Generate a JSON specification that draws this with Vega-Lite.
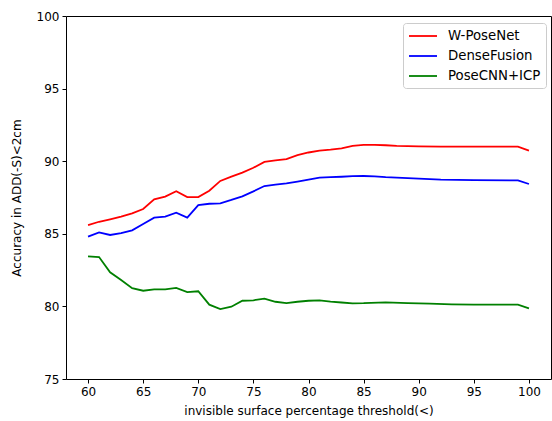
{
  "$schema": "https://vega.github.io/schema/vega-lite/v6.json",
  "width": 485,
  "height": 363,
  "autosize": {"type": "none"},
  "padding": {"left": 66, "top": 16, "right": 1, "bottom": 42},
  "background": "white",
  "config": {
    "font": "DejaVu Sans",
    "view": {"stroke": "black", "strokeWidth": 1},
    "axis": {
      "grid": false,
      "domain": false,
      "tickColor": "black",
      "tickSize": 4,
      "labelFontSize": 12,
      "labelColor": "black",
      "titleFontSize": 12,
      "titleFontWeight": "normal",
      "titleColor": "black",
      "labelPadding": 3
    }
  },
  "data": {
    "values": [
      {"method": "W-PoseNet", "t": 60, "acc": 85.6},
      {"method": "W-PoseNet", "t": 61, "acc": 85.83},
      {"method": "W-PoseNet", "t": 62, "acc": 86.0},
      {"method": "W-PoseNet", "t": 63, "acc": 86.18},
      {"method": "W-PoseNet", "t": 64, "acc": 86.41},
      {"method": "W-PoseNet", "t": 65, "acc": 86.71},
      {"method": "W-PoseNet", "t": 66, "acc": 87.37},
      {"method": "W-PoseNet", "t": 67, "acc": 87.56},
      {"method": "W-PoseNet", "t": 68, "acc": 87.93},
      {"method": "W-PoseNet", "t": 69, "acc": 87.53},
      {"method": "W-PoseNet", "t": 70, "acc": 87.53},
      {"method": "W-PoseNet", "t": 71, "acc": 87.97},
      {"method": "W-PoseNet", "t": 72, "acc": 88.64},
      {"method": "W-PoseNet", "t": 73, "acc": 88.94},
      {"method": "W-PoseNet", "t": 74, "acc": 89.21},
      {"method": "W-PoseNet", "t": 75, "acc": 89.55},
      {"method": "W-PoseNet", "t": 76, "acc": 89.95},
      {"method": "W-PoseNet", "t": 77, "acc": 90.05},
      {"method": "W-PoseNet", "t": 78, "acc": 90.15},
      {"method": "W-PoseNet", "t": 79, "acc": 90.42},
      {"method": "W-PoseNet", "t": 80, "acc": 90.6},
      {"method": "W-PoseNet", "t": 81, "acc": 90.73},
      {"method": "W-PoseNet", "t": 82, "acc": 90.8},
      {"method": "W-PoseNet", "t": 83, "acc": 90.89},
      {"method": "W-PoseNet", "t": 84, "acc": 91.05},
      {"method": "W-PoseNet", "t": 85, "acc": 91.12},
      {"method": "W-PoseNet", "t": 86, "acc": 91.12},
      {"method": "W-PoseNet", "t": 87, "acc": 91.1},
      {"method": "W-PoseNet", "t": 88, "acc": 91.05},
      {"method": "W-PoseNet", "t": 90, "acc": 91.02},
      {"method": "W-PoseNet", "t": 92, "acc": 91.0},
      {"method": "W-PoseNet", "t": 95, "acc": 91.0},
      {"method": "W-PoseNet", "t": 99, "acc": 91.0},
      {"method": "W-PoseNet", "t": 100, "acc": 90.73},
      {"method": "DenseFusion", "t": 60, "acc": 84.8},
      {"method": "DenseFusion", "t": 61, "acc": 85.1},
      {"method": "DenseFusion", "t": 62, "acc": 84.92},
      {"method": "DenseFusion", "t": 63, "acc": 85.05},
      {"method": "DenseFusion", "t": 64, "acc": 85.24},
      {"method": "DenseFusion", "t": 65, "acc": 85.67},
      {"method": "DenseFusion", "t": 66, "acc": 86.11},
      {"method": "DenseFusion", "t": 67, "acc": 86.18},
      {"method": "DenseFusion", "t": 68, "acc": 86.45},
      {"method": "DenseFusion", "t": 69, "acc": 86.11},
      {"method": "DenseFusion", "t": 70, "acc": 86.98},
      {"method": "DenseFusion", "t": 71, "acc": 87.07},
      {"method": "DenseFusion", "t": 72, "acc": 87.1},
      {"method": "DenseFusion", "t": 73, "acc": 87.33},
      {"method": "DenseFusion", "t": 74, "acc": 87.58},
      {"method": "DenseFusion", "t": 75, "acc": 87.92},
      {"method": "DenseFusion", "t": 76, "acc": 88.29},
      {"method": "DenseFusion", "t": 77, "acc": 88.38},
      {"method": "DenseFusion", "t": 78, "acc": 88.47},
      {"method": "DenseFusion", "t": 79, "acc": 88.6},
      {"method": "DenseFusion", "t": 80, "acc": 88.73},
      {"method": "DenseFusion", "t": 81, "acc": 88.87},
      {"method": "DenseFusion", "t": 82, "acc": 88.9},
      {"method": "DenseFusion", "t": 83, "acc": 88.93},
      {"method": "DenseFusion", "t": 84, "acc": 88.97},
      {"method": "DenseFusion", "t": 85, "acc": 88.98},
      {"method": "DenseFusion", "t": 86, "acc": 88.95},
      {"method": "DenseFusion", "t": 87, "acc": 88.9},
      {"method": "DenseFusion", "t": 88, "acc": 88.87},
      {"method": "DenseFusion", "t": 90, "acc": 88.8},
      {"method": "DenseFusion", "t": 92, "acc": 88.73},
      {"method": "DenseFusion", "t": 95, "acc": 88.7},
      {"method": "DenseFusion", "t": 99, "acc": 88.68},
      {"method": "DenseFusion", "t": 100, "acc": 88.43},
      {"method": "PoseCNN+ICP", "t": 60, "acc": 83.45},
      {"method": "PoseCNN+ICP", "t": 61, "acc": 83.4},
      {"method": "PoseCNN+ICP", "t": 62, "acc": 82.35},
      {"method": "PoseCNN+ICP", "t": 63, "acc": 81.82},
      {"method": "PoseCNN+ICP", "t": 64, "acc": 81.25},
      {"method": "PoseCNN+ICP", "t": 65, "acc": 81.08},
      {"method": "PoseCNN+ICP", "t": 66, "acc": 81.17},
      {"method": "PoseCNN+ICP", "t": 67, "acc": 81.17},
      {"method": "PoseCNN+ICP", "t": 68, "acc": 81.27},
      {"method": "PoseCNN+ICP", "t": 69, "acc": 80.99},
      {"method": "PoseCNN+ICP", "t": 70, "acc": 81.04},
      {"method": "PoseCNN+ICP", "t": 71, "acc": 80.12},
      {"method": "PoseCNN+ICP", "t": 72, "acc": 79.82},
      {"method": "PoseCNN+ICP", "t": 73, "acc": 79.98},
      {"method": "PoseCNN+ICP", "t": 74, "acc": 80.39},
      {"method": "PoseCNN+ICP", "t": 75, "acc": 80.42},
      {"method": "PoseCNN+ICP", "t": 76, "acc": 80.53},
      {"method": "PoseCNN+ICP", "t": 77, "acc": 80.32},
      {"method": "PoseCNN+ICP", "t": 78, "acc": 80.23},
      {"method": "PoseCNN+ICP", "t": 79, "acc": 80.32},
      {"method": "PoseCNN+ICP", "t": 80, "acc": 80.39},
      {"method": "PoseCNN+ICP", "t": 81, "acc": 80.42},
      {"method": "PoseCNN+ICP", "t": 82, "acc": 80.33},
      {"method": "PoseCNN+ICP", "t": 83, "acc": 80.27},
      {"method": "PoseCNN+ICP", "t": 84, "acc": 80.21},
      {"method": "PoseCNN+ICP", "t": 85, "acc": 80.22},
      {"method": "PoseCNN+ICP", "t": 87, "acc": 80.28},
      {"method": "PoseCNN+ICP", "t": 89, "acc": 80.23},
      {"method": "PoseCNN+ICP", "t": 91, "acc": 80.19},
      {"method": "PoseCNN+ICP", "t": 93, "acc": 80.14},
      {"method": "PoseCNN+ICP", "t": 95, "acc": 80.12},
      {"method": "PoseCNN+ICP", "t": 99, "acc": 80.12},
      {"method": "PoseCNN+ICP", "t": 100, "acc": 79.87}
    ]
  },
  "mark": {"type": "line", "strokeWidth": 1.8, "clip": true},
  "encoding": {
    "x": {
      "field": "t",
      "type": "quantitative",
      "scale": {"domain": [58, 102], "nice": false, "zero": false},
      "axis": {"values": [60, 65, 70, 75, 80, 85, 90, 95, 100], "title": "invisible surface percentage threshold(<)", "titlePadding": 8}
    },
    "y": {
      "field": "acc",
      "type": "quantitative",
      "scale": {"domain": [75, 100], "nice": false, "zero": false},
      "axis": {"values": [75, 80, 85, 90, 95, 100], "title": "Accuracy in ADD(-S)<2cm", "titlePadding": 13}
    },
    "color": {
      "field": "method",
      "type": "nominal",
      "scale": {"domain": ["W-PoseNet", "DenseFusion", "PoseCNN+ICP"], "range": ["#ff0000", "#0000ff", "#008000"]},
      "legend": {
        "title": null,
        "orient": "none",
        "legendX": 337,
        "legendY": 7,
        "symbolType": "M-1,0H3",
        "symbolSize": 196,
        "symbolStrokeWidth": 1.8,
        "labelFontSize": 13.3,
        "labelColor": "black",
        "labelOffset": 24,
        "rowPadding": 5,
        "padding": 5,
        "strokeColor": "#cccccc",
        "fillColor": "white",
        "cornerRadius": 3
      }
    }
  }
}
